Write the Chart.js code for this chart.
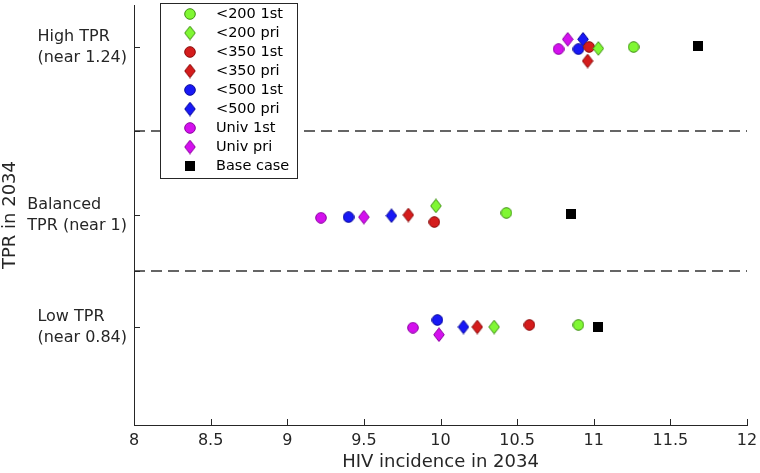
<!DOCTYPE html>
<html><head><meta charset="utf-8">
<script src="https://cdn.jsdelivr.net/npm/chart.js@4.4.0/dist/chart.umd.min.js"></script>
<style>html,body{margin:0;padding:0;background:#fff;}</style>
</head><body>
<canvas id="c" width="760" height="473" style="width:760px;height:473px;display:block"></canvas>
<script>
// ---- data ----
const seriesNames = ['<200 1st','<200 pri','<350 1st','<350 pri','<500 1st','<500 pri','Univ 1st','Univ pri','Base case'];
// HIV incidence in 2034 (x) for each scenario group
const incidenceHigh     = [11.26, 11.03, 10.97, 10.96, 10.90, 10.93, 10.77, 10.83, 11.68];
const incidenceBalanced = [10.43,  9.97,  9.96,  9.79,  9.40,  9.68,  9.22,  9.50, 10.85];
const incidenceLow      = [10.90, 10.35, 10.58, 10.24,  9.98, 10.15,  9.82,  9.99, 11.03];
// TPR in 2034 (y) for each scenario group
const tprHigh     = [1.240, 1.238, 1.240, 1.220, 1.237, 1.251, 1.237, 1.251, 1.241];
const tprBalanced = [1.003, 1.013, 0.990, 1.000, 0.997, 0.999, 0.996, 0.997, 1.001];
const tprLow      = [0.843, 0.840, 0.843, 0.840, 0.850, 0.840, 0.839, 0.829, 0.840];
// axis ticks / labels
const xTickValues = [8, 8.5, 9, 9.5, 10, 10.5, 11, 11.5, 12];
const yTickValues = [0.84, 0.92, 1.0, 1.12, 1.24];
const yGroupValues = [1.24, 1.0, 0.84];
const yGroupLabels = [['High TPR','(near 1.24)'], ['Balanced','TPR (near 1)'], ['Low TPR','(near 0.84)']];
const separatorValues = [1.12, 0.92];

// ---- styles ----
const markerShapes = ['circle','diamond','circle','diamond','circle','diamond','circle','diamond','square'];
const fills   = ['#80f733','#80f733','#d41c1c','#d41c1c','#1818f5','#1818f5','#d410ee','#d410ee','#000000'];
const strokes = ['#3f8f14','#3f8f14','#8a0a0a','#8a0a0a','#0a0a9a','#0a0a9a','#8a00a0','#8a00a0','#000000'];

function makeMarker(shape, fill, stroke) {
  const c = document.createElement('canvas');
  let w = 12, h = 12;
  if (shape === 'diamond') { w = 12; h = 15; }
  if (shape === 'square') { w = 10; h = 10; }
  c.width = w; c.height = h;
  const g = c.getContext('2d');
  g.fillStyle = fill; g.strokeStyle = stroke; g.lineWidth = 1;
  g.beginPath();
  if (shape === 'circle') {
    g.arc(w/2, h/2, w/2 - 0.7, 0, Math.PI*2);
  } else if (shape === 'diamond') {
    g.moveTo(w/2, 0.7); g.lineTo(w-0.7, h/2); g.lineTo(w/2, h-0.7); g.lineTo(0.7, h/2); g.closePath();
  } else {
    g.rect(0, 0, w, h);
  }
  g.fill();
  if (shape !== 'square') g.stroke();
  return c;
}
const markers = seriesNames.map((n, i) => makeMarker(markerShapes[i], fills[i], strokes[i]));

const scatterSets = seriesNames.map((name, i) => ({
  type: 'scatter',
  label: name,
  data: [
    {x: incidenceHigh[i], y: tprHigh[i]},
    {x: incidenceBalanced[i], y: tprBalanced[i]},
    {x: incidenceLow[i], y: tprLow[i]}
  ],
  pointStyle: markers[i],
  backgroundColor: fills[i],
  borderColor: strokes[i],
  order: 0
}));
const lineSets = separatorValues.map(v => ({
  type: 'line',
  label: '_sep',
  data: [{x: xTickValues[0], y: v}, {x: xTickValues[xTickValues.length-1], y: v}],
  borderColor: '#333333',
  borderWidth: 1.5,
  borderDash: [11, 6],
  pointRadius: 0,
  fill: false,
  order: 10
}));

const FONT = "'DejaVu Sans', sans-serif";
const TEXT = '#262626';

const decorPlugin = {
  id: 'decor',
  afterDraw(chart) {
    const ctx = chart.ctx;
    const xs = chart.scales.x, ys = chart.scales.y;
    const ca = chart.chartArea;
    ctx.save();
    // inward ticks
    ctx.strokeStyle = '#262626'; ctx.lineWidth = 1;
    ctx.beginPath();
    xTickValues.forEach(v => {
      const px = Math.round(xs.getPixelForValue(v)) + 0.5;
      ctx.moveTo(px, ca.bottom); ctx.lineTo(px, ca.bottom - 6);
    });
    yTickValues.forEach(v => {
      const py = Math.round(ys.getPixelForValue(v)) + 0.5;
      ctx.moveTo(ca.left, py); ctx.lineTo(ca.left + 6, py);
    });
    ctx.stroke();
    // y group labels (lines left-aligned, block right-aligned)
    ctx.font = '16px ' + FONT;
    ctx.fillStyle = TEXT;
    ctx.textBaseline = 'middle';
    ctx.textAlign = 'left';
    const lh = 21;
    yGroupValues.forEach((v, k) => {
      const lines = yGroupLabels[k];
      const w = Math.max(...lines.map(s => ctx.measureText(s).width));
      const x0 = ca.left - 7 - w;
      const py = ys.getPixelForValue(v);
      lines.forEach((s, j) => {
        ctx.fillText(s, x0, py + (j - (lines.length - 1) / 2) * lh);
      });
    });
    // legend box
    const lx = 160.5, ly = 3.5, lw = 137, lhgt = 175;
    ctx.fillStyle = '#ffffff';
    ctx.fillRect(lx, ly, lw, lhgt);
    ctx.strokeStyle = '#262626';
    ctx.strokeRect(lx, ly, lw, lhgt);
    ctx.font = '14.5px ' + FONT;
    ctx.fillStyle = '#000';
    scatterSets.forEach((ds, i) => {
      const cy = 14 + 19 * i;
      const m = markers[i];
      ctx.drawImage(m, 190 - m.width/2, cy - m.height/2);
      ctx.fillText(ds.label, 216, cy);
    });
    ctx.restore();
  }
};

new Chart(document.getElementById('c'), {
  data: { datasets: [...scatterSets, ...lineSets] },
  options: {
    responsive: false,
    animation: false,
    devicePixelRatio: 1,
    layout: { padding: { top: 3, right: 13, left: 0, bottom: 0 } },
    plugins: { legend: { display: false }, tooltip: { enabled: false } },
    scales: {
      x: {
        type: 'linear',
        min: 8, max: 12,
        afterBuildTicks: s => { s.ticks = xTickValues.map(v => ({value: v})); },
        afterFit: s => { s.height = 48; s.paddingLeft = 0; s.paddingRight = 0; },
        grid: { display: false, drawTicks: false },
        border: { display: true, color: '#262626', width: 1 },
        ticks: { color: TEXT, font: { family: FONT, size: 16 }, padding: 6, maxRotation: 0,
                 callback: v => String(v) },
        title: { display: true, text: 'HIV incidence in 2034', color: TEXT, font: { family: FONT, size: 18 }, padding: { top: 0, bottom: 0 } }
      },
      y: {
        type: 'linear',
        min: 0.7, max: 1.3,
        afterBuildTicks: s => { s.ticks = yTickValues.map(v => ({value: v})); },
        afterFit: s => { s.width = 134; s.paddingTop = 0; s.paddingBottom = 0; },
        grid: { display: false, drawTicks: false },
        border: { display: true, color: '#262626', width: 1 },
        ticks: { display: false },
        title: { display: true, text: 'TPR in 2034', color: TEXT, font: { family: FONT, size: 18 }, padding: { top: 0, bottom: 0 } }
      }
    }
  },
  plugins: [decorPlugin]
});
</script>
</body></html>
